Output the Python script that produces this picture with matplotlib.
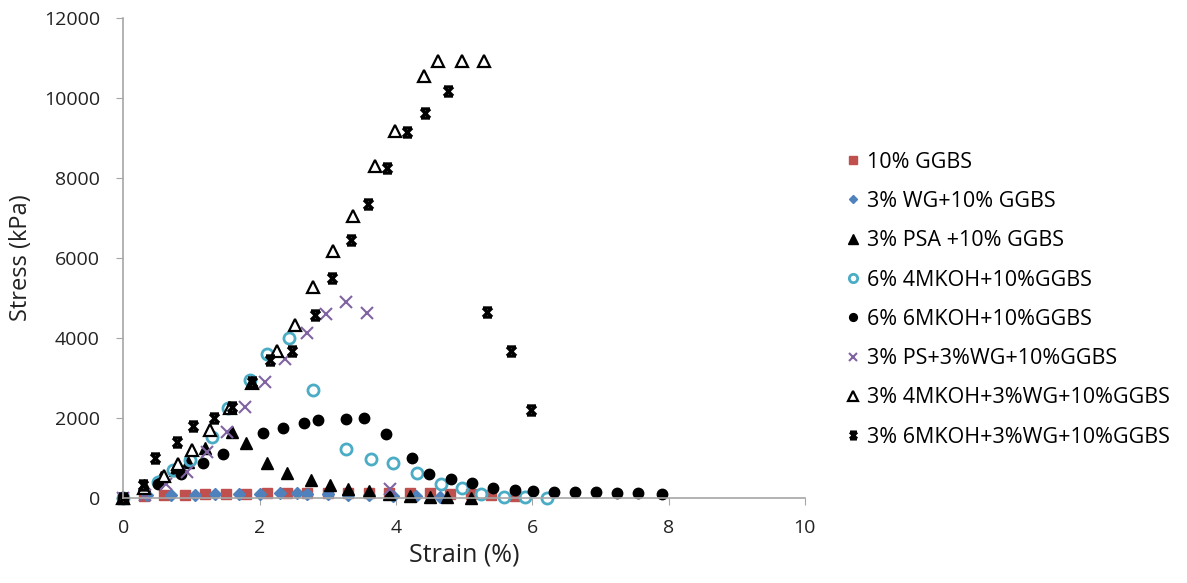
import matplotlib
matplotlib.use("Agg")
import matplotlib.pyplot as plt
from matplotlib.path import Path

plt.rcParams['font.family'] = ['Open Sans', 'DejaVu Sans']

# 10% GGBS
x_ggbs = [0, 0.3, 0.6, 0.9, 1.2, 1.5, 1.8, 2.1, 2.4, 2.7, 3.0, 3.3, 3.6, 3.9, 4.2, 4.5, 4.8, 5.1, 5.4, 5.75]
y_ggbs = [0, 50, 70, 80, 90, 100, 100, 110, 110, 120, 120, 130, 130, 130, 120, 110, 100, 90, 70, 50]
# 3% WG+10% GGBS
x_wg = [0, 0.35, 0.7, 1.05, 1.35, 1.7, 2.0, 2.3, 2.55, 2.7, 3.0, 3.3, 3.6, 3.95, 4.3, 4.65]
y_wg = [0, 60, 70, 80, 90, 100, 100, 110, 110, 100, 90, 70, 60, 50, 40, 30]
# 3% PSA +10% GGBS
x_psa = [0, 0.3, 0.55, 0.75, 0.95, 1.2, 1.6, 1.8, 2.1, 2.4, 2.75, 3.03, 3.3, 3.6, 3.9, 4.2, 4.5, 4.75, 5.1]
y_psa = [0, 320, 520, 700, 900, 1250, 1650, 1370, 870, 620, 450, 330, 230, 170, 90, 40, 30, 10, 0]
# 6% 4MKOH+10%GGBS
x_4m = [0, 0.5, 0.73, 0.98, 1.3, 1.54, 1.86, 2.1, 2.43, 2.78, 3.27, 3.63, 3.96, 4.31, 4.66, 4.97, 5.25, 5.59, 5.9, 6.22]
y_4m = [0, 400, 700, 950, 1520, 2260, 2960, 3590, 4010, 2710, 1220, 970, 870, 620, 350, 250, 100, 30, 30, 0]
# 6% 6MKOH+10%GGBS
x_6m = [0, 0.5, 0.85, 1.17, 1.46, 2.05, 2.34, 2.65, 2.86, 3.27, 3.53, 3.86, 4.23, 4.49, 4.81, 5.12, 5.43, 5.75, 6.01,
        6.32, 6.63, 6.94, 7.25, 7.55, 7.9]
y_6m = [0, 350, 600, 870, 1090, 1620, 1760, 1880, 1940, 1970, 1990, 1600, 1000, 600, 470, 370, 250, 200, 180,
        150, 150, 150, 120, 120, 100]
# 3% PS+3%WG+10%GGBS
x_ps = [0, 0.32, 0.62, 0.93, 1.22, 1.52, 1.79, 2.08, 2.37, 2.69, 2.98, 3.27, 3.58, 3.91]
y_ps = [0, 80, 350, 650, 1150, 1650, 2280, 2890, 3480, 4130, 4600, 4900, 4620, 230]
# 3% 4MKOH+3%WG+10%GGBS
x_4mwg = [0, 0.3, 0.6, 0.8, 1.0, 1.27, 1.57, 1.89, 2.25, 2.52, 2.78, 3.08, 3.37, 3.69, 3.99, 4.41, 4.62, 4.97, 5.29]
y_4mwg = [0, 250, 550, 850, 1190, 1690, 2260, 2880, 3680, 4330, 5280, 6170, 7060, 8300, 9170, 10550, 10920, 10920, 10920]
# 3% 6MKOH+3%WG+10%GGBS
x_6mwg = [0, 0.29, 0.46, 0.78, 1.02, 1.33, 1.59, 1.89, 2.15, 2.47, 2.81, 3.06, 3.34, 3.59, 3.87, 4.16, 4.43, 4.77,
          5.34, 5.69, 5.98]
y_6mwg = [0, 320, 1000, 1390, 1790, 1990, 2270, 2890, 3450, 3680, 4580, 5500, 6460, 7340, 8250, 9160, 9620, 10170,
          4640, 3680, 2210]

labels = ['10% GGBS', '3% WG+10% GGBS', '3% PSA +10% GGBS', '6% 4MKOH+10%GGBS', '6% 6MKOH+10%GGBS',
          '3% PS+3%WG+10%GGBS', '3% 4MKOH+3%WG+10%GGBS', '3% 6MKOH+3%WG+10%GGBS']

# hourglass-like marker (X with top and bottom bars)
hg = Path([(-1, 1), (1, 1), (-1, -1), (1, -1), (-1, 1), (1, -1), (1, 1), (-1, -1)],
          [Path.MOVETO, Path.LINETO, Path.MOVETO, Path.LINETO, Path.MOVETO, Path.LINETO, Path.MOVETO, Path.LINETO])

fig = plt.figure(figsize=(11.87, 5.83), dpi=100)
ax = fig.add_axes([0.104, 0.146, 0.574, 0.823])

kw = dict(ls='none', clip_on=False)
ax.plot(x_ggbs, y_ggbs, marker='s', color='#C0504D', ms=7, label=labels[0], **kw)
ax.plot(x_wg, y_wg, marker='D', color='#4F81BD', ms=6, label=labels[1], **kw)
ax.plot(x_psa, y_psa, marker='^', color='black', ms=9, label=labels[2], **kw)
ax.plot(x_4m, y_4m, marker='o', mfc='none', mec='#4BACC6', mew=2, ms=8, label=labels[3], **kw)
ax.plot(x_6m, y_6m, marker='o', color='black', ms=7.5, label=labels[4], **kw)
ax.plot(x_ps, y_ps, marker='x', color='#8064A2', mew=1.5, ms=8, label=labels[5], **kw)
ax.plot(x_4mwg, y_4mwg, marker='^', mfc='white', mec='black', mew=1.6, ms=9, label=labels[6], **kw)
ax.plot(x_6mwg, y_6mwg, marker=hg, mfc='none', mec='black', mew=2.4, ms=6.5, label=labels[7], **kw)

ax.set_xlim(0, 10)
ax.set_ylim(0, 12000)
ax.set_xticks(range(0, 11, 2))
ax.set_yticks(range(0, 12001, 2000))
for s in ['top', 'right']:
    ax.spines[s].set_visible(False)
for s in ['left', 'bottom']:
    ax.spines[s].set_color('#A6A6A6')
    ax.spines[s].set_linewidth(1.2)
ax.tick_params(axis='both', color='#A6A6A6', length=5, labelsize=14, labelcolor='#222222')
ax.tick_params(axis='x', pad=10)
ax.tick_params(axis='y', pad=12)
ax.set_xlabel('Strain (%)', fontsize=18, labelpad=4, color='#222222')
ax.set_ylabel('Stress (kPa)', fontsize=17, labelpad=8, color='#222222')

fig.legend(loc='center left', bbox_to_anchor=(0.696, 0.486), frameon=False, fontsize=15.5,
           handlelength=0.7, handletextpad=0.3, labelspacing=0.85, markerscale=0.75)

fig.savefig('out.png', dpi=100)
